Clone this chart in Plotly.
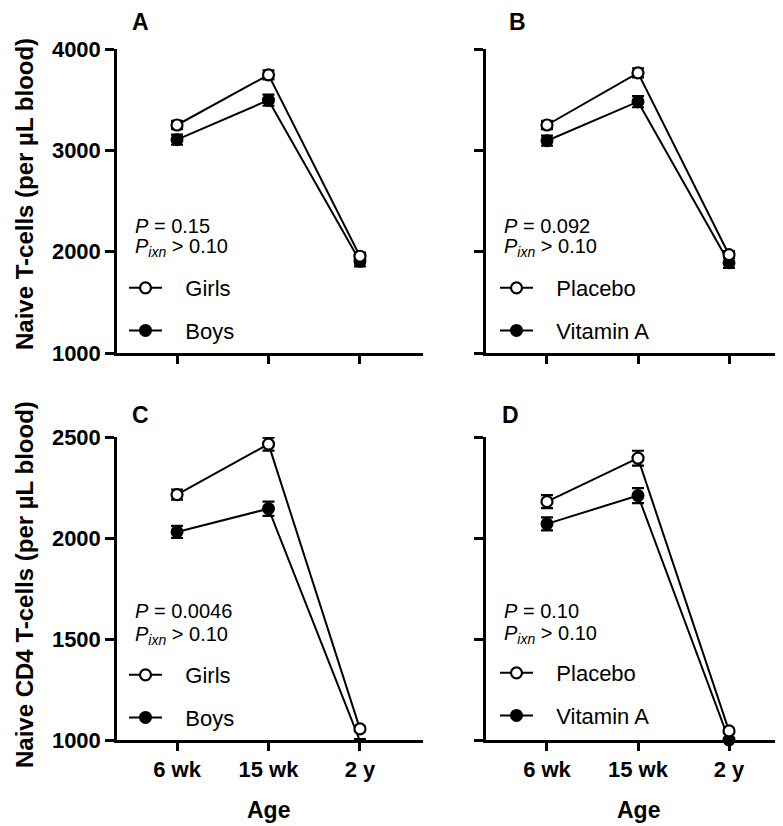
import plotly.graph_objects as go

# ---------------- data ----------------
ages = ["6 wk", "15 wk", "2 y"]

a_girls = [3250, 3745, 1955]
a_girls_err = [40, 45, 35]
a_boys = [3105, 3495, 1905]
a_boys_err = [50, 55, 50]

b_placebo = [3250, 3765, 1970]
b_placebo_err = [40, 45, 35]
b_vita = [3095, 3480, 1890]
b_vita_err = [50, 55, 50]

c_girls = [2215, 2465, 1055]
c_girls_err = [25, 32, 10]
c_boys = [2030, 2145, 995]
c_boys_err = [30, 35, 10]

d_placebo = [2180, 2395, 1045]
d_placebo_err = [32, 37, 10]
d_vita = [2070, 2210, 1000]
d_vita_err = [32, 37, 10]

top_ticks = [1000, 2000, 3000, 4000]
bottom_ticks = [1000, 1500, 2000, 2500]

panel_letters = ["A", "B", "C", "D"]
p_texts = ["0.15", "0.092", "0.0046", "0.10"]
pixn_text = "0.10"
ytitle_top = "Naive T-cells (per µL blood)"
ytitle_bottom = "Naive CD4 T-cells (per µL blood)"
xtitle = "Age"

# ---------------- layout helpers ----------------
W, H = 783, 826
OFF = 8  # page body margin offset
FONT = "Liberation Sans, Arial, sans-serif"
NBSP = "\u00a0\u00a0\u00a0"


def px(x):
    return (x - OFF) / W


def py(y):
    return 1 - (y - OFF) / H


fig = go.Figure()

panels = [
    ("", "legend", "Girls", a_girls, a_girls_err, "Boys", a_boys, a_boys_err),
    ("2", "legend2", "Placebo", b_placebo, b_placebo_err, "Vitamin A", b_vita, b_vita_err),
    ("3", "legend3", "Girls", c_girls, c_girls_err, "Boys", c_boys, c_boys_err),
    ("4", "legend4", "Placebo", d_placebo, d_placebo_err, "Vitamin A", d_vita, d_vita_err),
]

for suf, leg, n_open, v_open, e_open, n_fill, v_fill, e_fill in panels:
    xa = "x" + suf
    ya = "y" + suf
    fig.add_trace(go.Scatter(
        x=ages, y=v_fill, xaxis=xa, yaxis=ya, name=NBSP + n_fill, legend=leg,
        legendgroup=leg + "f", legendrank=2,
        mode="lines+markers", cliponaxis=False,
        line=dict(color="black", width=2),
        marker=dict(symbol="circle", size=11, color="black",
                    line=dict(color="black", width=2)),
        error_y=dict(type="data", array=e_fill, color="black", thickness=2.2, width=6),
    ))
    fig.add_trace(go.Scatter(
        x=ages, y=v_open, xaxis=xa, yaxis=ya, name=NBSP + n_open, legend=leg,
        legendgroup=leg + "o", legendrank=1,
        mode="lines+markers", cliponaxis=False,
        line=dict(color="black", width=2),
        marker=dict(symbol="circle", size=11, color="white",
                    line=dict(color="black", width=2.2)),
        error_y=dict(type="data", array=e_open, color="black", thickness=2.2, width=6),
    ))

xdom_left = [px(117), px(423)]
xdom_right = [px(486), px(783)]
ydom_top = [py(353), py(49)]
ydom_bot = [py(740), py(437)]

xrange_left = [-0.656, 2.689]
xrange_right = [-0.67, 2.593]

axis_common = dict(
    showline=True, linecolor="black", linewidth=2.5,
    ticks="outside", tickcolor="black", tickwidth=2.5,
    showgrid=False, zeroline=False, automargin=False,
    tickfont=dict(family=FONT, size=22, color="black", weight="bold"),
)

fig.update_layout(
    xaxis=dict(domain=xdom_left, anchor="y", range=xrange_left, ticklen=8,
               showticklabels=False, **axis_common),
    yaxis=dict(domain=ydom_top, anchor="x", range=[1000, 4000], tickvals=top_ticks,
               ticklen=9, **axis_common),
    xaxis2=dict(domain=xdom_right, anchor="y2", range=xrange_right, ticklen=8,
                showticklabels=False, **axis_common),
    yaxis2=dict(domain=ydom_top, anchor="x2", range=[1000, 4000], tickvals=top_ticks,
                ticklen=9, showticklabels=False, **axis_common),
    xaxis3=dict(domain=xdom_left, anchor="y3", range=xrange_left, ticklen=8,
                **axis_common),
    yaxis3=dict(domain=ydom_bot, anchor="x3", range=[1000, 2500], tickvals=bottom_ticks,
                ticklen=9, **axis_common),
    xaxis4=dict(domain=xdom_right, anchor="y4", range=xrange_right, ticklen=8,
                **axis_common),
    yaxis4=dict(domain=ydom_bot, anchor="x4", range=[1000, 2500], tickvals=bottom_ticks,
                ticklen=9, showticklabels=False, **axis_common),
)

legend_common = dict(
    xanchor="left", yanchor="top", bgcolor="rgba(0,0,0,0)", borderwidth=0,
    font=dict(family=FONT, size=22, color="black"),
    traceorder="grouped", tracegroupgap=11, itemwidth=33,
)
fig.update_layout(
    legend=dict(x=px(124), y=py(267), **legend_common),
    legend2=dict(x=px(495), y=py(267), **legend_common),
    legend3=dict(x=px(124), y=py(654), **legend_common),
    legend4=dict(x=px(495), y=py(652), **legend_common),
)

annotations = []
letter_pos = [(140, 22), (517, 22), (140, 415), (510, 415)]
for letter, (lx, ly) in zip(panel_letters, letter_pos):
    annotations.append(dict(text=letter, x=px(lx), y=py(ly), xref="paper", yref="paper",
                            xanchor="center", yanchor="middle", showarrow=False,
                            font=dict(family=FONT, size=23, color="black", weight="bold")))
p_pos = [(133, 226, 248), (502, 226, 248), (133, 611, 635), (502, 611, 634)]
for ptxt, (ax, ay1, ay2) in zip(p_texts, p_pos):
    annotations.append(dict(text="<i>P</i> = " + ptxt, x=px(ax), y=py(ay1),
                            xref="paper", yref="paper", xanchor="left", yanchor="middle",
                            showarrow=False, font=dict(family=FONT, size=20, color="black")))
    annotations.append(dict(text="<i>P</i><sub><i>ixn</i></sub> > " + pixn_text,
                            x=px(ax), y=py(ay2),
                            xref="paper", yref="paper", xanchor="left", yanchor="middle",
                            showarrow=False, font=dict(family=FONT, size=20, color="black")))
annotations.append(dict(text=ytitle_top, x=px(24), y=py(194), xref="paper", yref="paper",
                        textangle=-90, xanchor="center", yanchor="middle", showarrow=False,
                        font=dict(family=FONT, size=24, color="black", weight="bold")))
annotations.append(dict(text=ytitle_bottom, x=px(24), y=py(585), xref="paper", yref="paper",
                        textangle=-90, xanchor="center", yanchor="middle", showarrow=False,
                        font=dict(family=FONT, size=24, color="black", weight="bold")))
for xr in ["x3", "x4"]:
    annotations.append(dict(text=xtitle, x=ages[1], y=py(810), xref=xr, yref="paper",
                            xanchor="center", yanchor="middle", showarrow=False,
                            font=dict(family=FONT, size=23, color="black", weight="bold")))

fig.update_layout(
    width=W, height=H,
    margin=dict(l=0, r=0, t=0, b=0, autoexpand=False),
    paper_bgcolor="white", plot_bgcolor="white",
    annotations=annotations,
    showlegend=True,
)

fig.write_html("out.html")
